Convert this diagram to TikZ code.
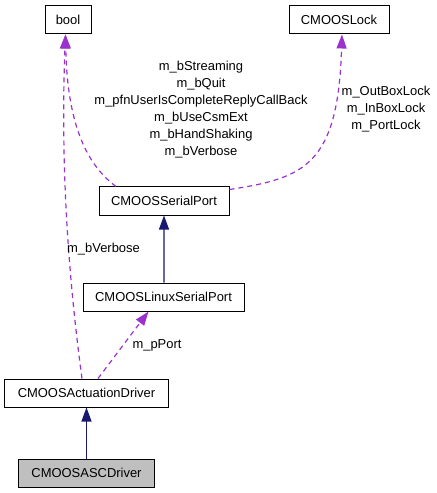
\documentclass[tikz,border=0pt]{standalone}
\usepackage{fontspec}
\setmainfont{Liberation Sans}
\usetikzlibrary{arrows.meta}
\definecolor{edgepurple}{HTML}{9A32CD}
\definecolor{edgenavy}{HTML}{191970}
\definecolor{boxgray}{HTML}{BFBFBF}
\tikzset{
  cls/.style={draw=black, line width=1bp, rectangle, inner sep=0pt, minimum height=28bp, font=\fontsize{13}{15}\selectfont},
  usage/.style={draw=edgepurple, line width=1.2bp, dash pattern=on 5bp off 4bp, -{Triangle[length=14bp,width=10bp,fill=edgepurple]}},
  inherit/.style={draw=edgenavy, line width=1.2bp, -{Triangle[length=14bp,width=10bp,fill=edgenavy]}},
  lbl/.style={align=center, inner sep=0pt, font=\fontsize{13}{17}\selectfont}
}
\begin{document}
\begin{tikzpicture}[x=1bp,y=-1bp]
\useasboundingbox (0,0) rectangle (437,493);
\node[cls, minimum width=46bp] (bool) at (68,20) {bool};
\node[cls, minimum width=100bp] (lock) at (339,20) {CMOOSLock};
\node[cls, minimum width=130bp] (serial) at (164,201) {CMOOSSerialPort};
\node[cls, minimum width=161bp] (linux) at (163.5,297) {CMOOSLinuxSerialPort};
\node[cls, minimum width=163bp] (act) at (86.5,393) {CMOOSActuationDriver};
\node[cls, minimum width=135bp, fill=boxgray] (asc) at (86.5,473) {CMOOSASCDriver};

\draw[inherit] (asc.north) -- (act.south);
\draw[inherit] ([xshift=0.5bp]linux.north) -- (serial.south);
\draw[usage] ([xshift=11.5bp]act.north) -- ([xshift=-15bp]linux.south);
\draw[usage] ([xshift=-4.5bp]act.north) .. controls (66,260) and (61,150) .. ([xshift=-2.5bp]bool.south);
\draw[usage] ([xshift=-48bp]serial.north) .. controls (80,160) and (67,110) .. ([xshift=-2.5bp]bool.south);
\draw[usage] ([yshift=-3bp]serial.north east) .. controls (305,178) and (338,165) .. ([xshift=3bp]lock.south);

\node[lbl] (lserial) at (201,109.5) {m\_bStreaming\\m\_bQuit\\m\_pfnUserIsCompleteReplyCallBack\\m\_bUseCsmExt\\m\_bHandShaking\\m\_bVerbose};
\node[lbl] (llock) at (386,109) {m\_OutBoxLock\\m\_InBoxLock\\m\_PortLock};
\node[lbl] (lverb) at (103.5,249) {m\_bVerbose};
\node[lbl] (lport) at (157,345) {m\_pPort};
\end{tikzpicture}
\end{document}
